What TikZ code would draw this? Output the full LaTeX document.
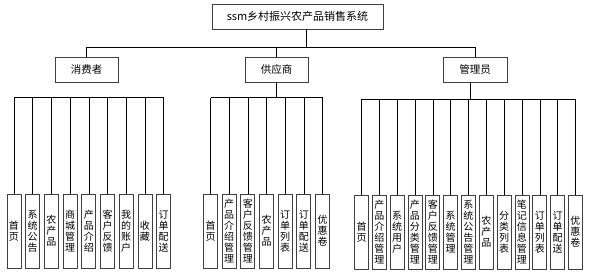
\documentclass[tikz,border=0pt]{standalone}
\usepackage{fontspec}
\newfontfamily\cjk{Noto Sans CJK SC}

\begin{document}
\begin{tikzpicture}[x=1pt,y=-1pt,
  sys/.style={draw=black!75,line width=0.8pt,minimum width=171pt,minimum height=25pt,inner sep=0pt,font=\cjk\fontsize{11}{13}\selectfont},
  role/.style={draw=black!75,line width=0.8pt,minimum width=63pt,minimum height=25pt,inner sep=0pt,font=\cjk\fontsize{10.5}{12}\selectfont},
  leaf/.style={draw=black!75,line width=0.8pt,minimum width=14pt,minimum height=74pt,inner sep=0pt,align=center,font=\cjk\fontsize{10}{11}\selectfont},
  link/.style={black,line width=0.6pt}]
  \useasboundingbox (0,0) rectangle (593,277);

  % system and roles
  \node[sys] (root) at (297.5,16.5) {ssm乡村振兴农产品销售系统};
  \node[role] (cons) at (86.5,69.5) {消费者};
  \node[role] (supp) at (276.5,69.5) {供应商};
  \node[role,minimum width=64pt] (admin) at (475,69.5) {管理员};

  \coordinate (tbar) at (0,47);
  \coordinate (cbar) at (0,97);
  \coordinate (sbar) at (0,97.5);
  \coordinate (abar) at (0,99);

  \draw[link] ([xshift=8.5pt]root.south) -- ([xshift=8.5pt]root.south |- tbar);
  \draw[link] (cons.north |- tbar) -- (admin.north |- tbar);
  \draw[link] (cons.north) -- (cons.north |- tbar);
  \draw[link] (supp.north) -- (supp.north |- tbar);
  \draw[link] (admin.north) -- (admin.north |- tbar);

  % consumer
  \foreach \t [count=\i] in {首\\页,系\\统\\公\\告,农\\产\\品,商\\城\\管\\理,产\\品\\介\\绍,
      客\\户\\反\\馈,我\\的\\账\\户,收\\藏,订\\单\\配\\送}
    \node[leaf] (c\i) at ({14+18.7*(\i-1)},231) {\t};
  \draw[link] (c1.north |- cbar) -- (c9.north |- cbar);
  \foreach \i in {1,...,9}
    \draw[link] (c\i.north) -- (c\i.north |- cbar);

  % supplier
  \foreach \t [count=\i] in {首\\页,产\\品\\介\\绍\\管\\理,客\\户\\反\\馈\\管\\理,农\\产\\品,
      订\\单\\列\\表,订\\单\\配\\送,优\\惠\\卷}
    \node[leaf] (s\i) at ({210.5+18.67*(\i-1)},231) {\t};
  \draw[link] (supp.south) -- (supp.south |- sbar);
  \draw[link] (s1.north |- sbar) -- (s7.north |- sbar);
  \foreach \i in {1,...,7}
    \draw[link] (s\i.north) -- (s\i.north |- sbar);

  % admin
  \foreach \t [count=\i] in {首\\页,产\\品\\介\\绍\\管\\理,系\\统\\用\\户,产\\品\\分\\类\\管\\理,
      客\\户\\反\\馈\\管\\理,系\\统\\管\\理,系\\统\\公\\告\\管\\理,农\\产\\品,分\\类\\列\\表,
      笔\\记\\信\\息\\管\\理,订\\单\\列\\表,订\\单\\配\\送,优\\惠\\卷}
    \node[leaf] (a\i) at ({361.5+17.83*(\i-1)},232) {\t};
  \draw[link] ([xshift=-5pt]admin.south) -- ([xshift=-5pt]admin.south |- abar);
  \draw[link] (a1.north |- abar) -- (a13.north |- abar);
  \foreach \i in {1,...,13}
    \draw[link] (a\i.north) -- (a\i.north |- abar);
\end{tikzpicture}
\end{document}
